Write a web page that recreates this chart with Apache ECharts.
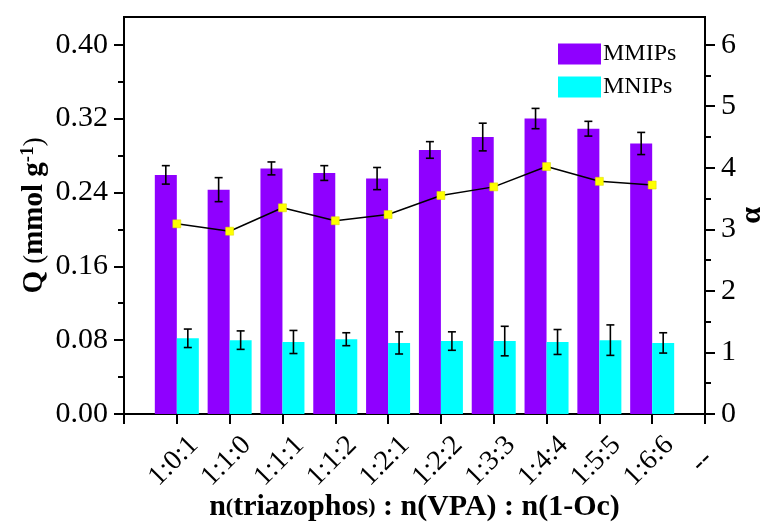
<!DOCTYPE html>
<html>
<head>
<meta charset="utf-8">
<script src="https://cdn.jsdelivr.net/npm/echarts@6/dist/echarts.min.js"></script>
<style>
html, body { margin: 0; padding: 0; background: #fff; }
#c { width: 766px; height: 522px; }
</style>
</head>
<body>
<div id="c"></div>
<script>
// data
const categories = ['1:0:1', '1:1:0', '1:1:1', '1:1:2', '1:2:1', '1:2:2', '1:3:3', '1:4:4', '1:5:5', '1:6:6']
const mmips = [0.259, 0.243, 0.266, 0.261, 0.255, 0.286, 0.300, 0.320, 0.309, 0.293]
const mmipsErr = [0.010, 0.013, 0.007, 0.008, 0.012, 0.009, 0.015, 0.011, 0.008, 0.012]
const mnips = [0.082, 0.080, 0.078, 0.081, 0.077, 0.079, 0.079, 0.078, 0.080, 0.077]
const mnipsErr = [0.010, 0.010, 0.0125, 0.007, 0.012, 0.010, 0.016, 0.0135, 0.0165, 0.011]
const alpha = [3.09, 2.97, 3.35, 3.14, 3.24, 3.55, 3.69, 4.02, 3.78, 3.72]

const qTicks = [0, 0.08, 0.16, 0.24, 0.32, 0.40]
const qMinor = [0.04, 0.12, 0.20, 0.28, 0.36]
const alphaTicks = [0, 1, 2, 3, 4, 5, 6]
const alphaMinor = [0.5, 1.5, 2.5, 3.5, 4.5, 5.5]

const FONT = 'Liberation Serif'
const BAR_W = 22
const axisCats = ['', ...categories, '--']
const pad = arr => [null, ...arr, null]

function errorBars(name, values, errs, shift) {
  return {
    type: 'custom',
    name,
    yAxisIndex: 0,
    z: 5,
    silent: true,
    data: values.map((v, i) => [i + 1, v, errs[i]]),
    renderItem(params, api) {
      const x = api.value(0)
      const lo = api.coord([x, api.value(1) - api.value(2)])
      const hi = api.coord([x, api.value(1) + api.value(2)])
      const cx = lo[0] + shift
      const st = { stroke: '#000', lineWidth: 1.6 }
      return {
        type: 'group',
        children: [
          { type: 'line', shape: { x1: cx, y1: lo[1], x2: cx, y2: hi[1] }, style: st },
          { type: 'line', shape: { x1: cx - 4, y1: lo[1], x2: cx + 4, y2: lo[1] }, style: st },
          { type: 'line', shape: { x1: cx - 4, y1: hi[1], x2: cx + 4, y2: hi[1] }, style: st },
        ],
      }
    },
  }
}

function valueAxis(pos, max, ticks, fmt, margin, extra) {
  return Object.assign({
    type: 'value',
    position: pos,
    min: 0,
    max,
    nameMoveOverlap: false,
    splitLine: { show: false },
    axisLine: { show: true, lineStyle: { color: '#000', width: 2 } },
    axisTick: { show: true, customValues: ticks, length: 10, lineStyle: { color: '#000', width: 2 } },
    axisLabel: { customValues: ticks, formatter: fmt, color: '#000', fontFamily: FONT, fontSize: 30, margin },
  }, extra)
}

function minorAxis(pos, max, ticks) {
  return {
    type: 'value',
    position: pos,
    min: 0,
    max,
    splitLine: { show: false },
    axisLine: { show: false },
    axisTick: { show: true, customValues: ticks, length: 6, lineStyle: { color: '#000', width: 2 } },
    axisLabel: { show: false },
  }
}

const chart = echarts.init(document.getElementById('c'))
chart.setOption({
  animation: false,
  backgroundColor: '#fff',
  grid: {
    left: 124, right: 61, top: 17, bottom: 108,
    outerBoundsMode: 'none',
    containLabel: false,
    show: true, borderColor: '#000', borderWidth: 2,
  },
  legend: {
    orient: 'vertical',
    left: 553,
    top: 37,
    itemWidth: 43,
    itemHeight: 21,
    itemGap: 9,
    icon: 'rect',
    data: ['MMIPs', 'MNIPs'],
    textStyle: { fontFamily: FONT, fontSize: 24, color: '#000', padding: [0, 0, 0, -3] },
  },
  xAxis: {
    type: 'category',
    data: axisCats,
    boundaryGap: false,
    nameMoveOverlap: false,
    axisLine: { lineStyle: { color: '#000', width: 2 } },
    axisTick: { interval: 0, length: 10, lineStyle: { color: '#000', width: 2 } },
    axisLabel: {
      interval: 0,
      rotate: 45,
      align: 'center',
      verticalAlign: 'middle',
      margin: 44,
      padding: [0, 9, 8, 0],
      color: '#000',
      fontFamily: FONT,
      fontSize: 28,
    },
    splitLine: { show: false },
    name: '{s|n}{p|(}{s|triazophos}{p|)}{s| : n(VPA) : n(1-Oc)}',
    nameLocation: 'middle',
    nameGap: 78,
    nameTextStyle: {
      rich: {
        s: { fontFamily: FONT, fontSize: 30, fontWeight: 'bold', color: '#000' },
        p: { fontFamily: FONT, fontSize: 22, fontWeight: 'bold', color: '#000' },
      },
    },
  },
  yAxis: [
    valueAxis('left', 0.43, qTicks, v => v.toFixed(2), 16, {
      name: '{b|Q }{n|(}{b|mmol g}{sup|-1}{n|)}',
      nameLocation: 'middle',
      nameGap: 73,
      nameTextStyle: {
        rich: {
          b: { fontFamily: FONT, fontSize: 29, fontWeight: 'bold', color: '#000', lineHeight: 32 },
          n: { fontFamily: FONT, fontSize: 27, color: '#000', lineHeight: 32 },
          sup: { fontFamily: FONT, fontSize: 19, fontWeight: 'bold', color: '#000', verticalAlign: 'top', lineHeight: 19 },
        },
      },
    }),
    valueAxis('right', 6.45, alphaTicks, v => String(Math.round(v)), 16, {
      name: 'α',
      nameLocation: 'middle',
      nameRotate: 90,
      nameGap: 32,
      nameTextStyle: { fontFamily: FONT, fontSize: 30, fontWeight: 'bold', color: '#000' },
    }),
    minorAxis('left', 0.43, qMinor),
    minorAxis('right', 6.45, alphaMinor),
  ],
  series: [
    {
      name: 'MMIPs',
      type: 'bar',
      yAxisIndex: 0,
      barWidth: BAR_W,
      barGap: '0%',
      itemStyle: { color: '#8F00FF' },
      data: pad(mmips),
    },
    {
      name: 'MNIPs',
      type: 'bar',
      yAxisIndex: 0,
      barWidth: BAR_W,
      barGap: '0%',
      itemStyle: { color: '#00FFFF' },
      data: pad(mnips),
    },
    errorBars('MMIPs err', mmips, mmipsErr, -BAR_W / 2),
    errorBars('MNIPs err', mnips, mnipsErr, BAR_W / 2),
    {
      name: 'alpha',
      type: 'line',
      yAxisIndex: 1,
      z: 6,
      data: pad(alpha),
      symbol: 'rect',
      symbolSize: 8,
      itemStyle: { color: '#FFFF00', borderColor: '#D8D800', borderWidth: 0.5 },
      lineStyle: { color: '#000', width: 1.5 },
    },
  ],
})
</script>
</body>
</html>
